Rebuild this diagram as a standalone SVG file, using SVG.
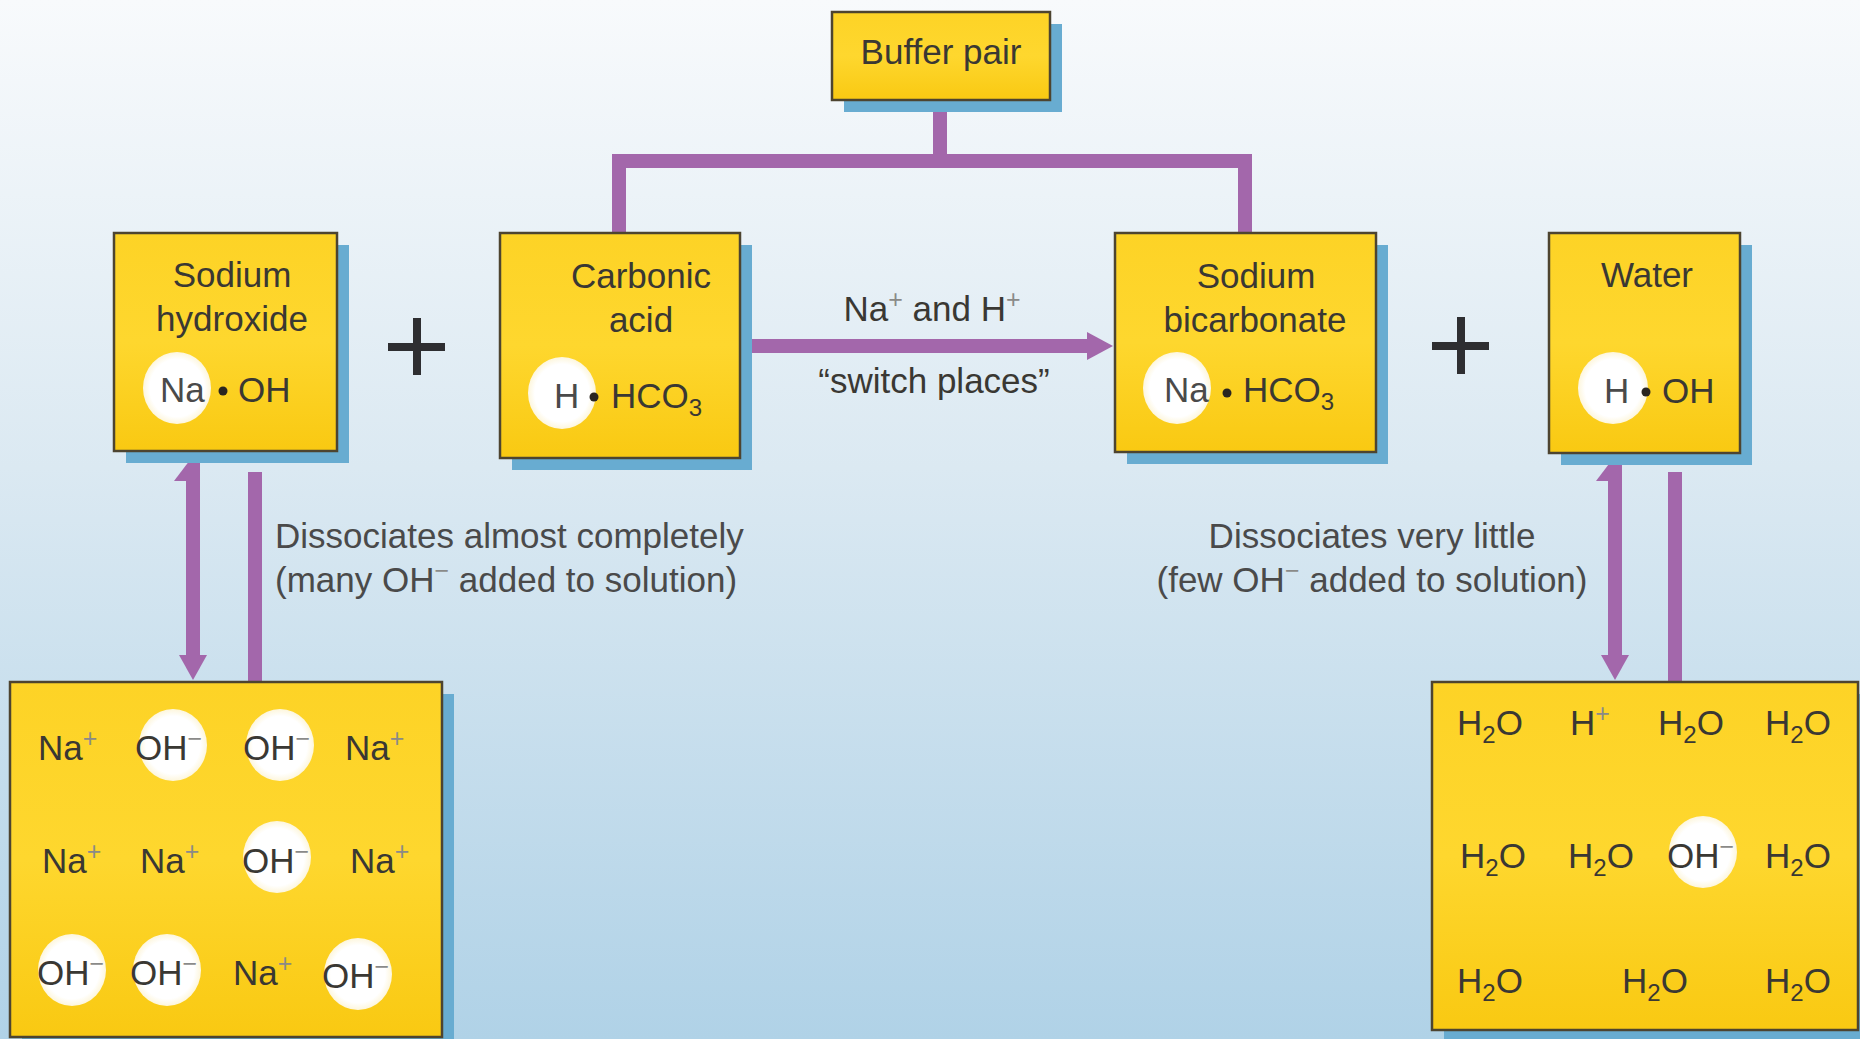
<svg xmlns="http://www.w3.org/2000/svg" width="1860" height="1039" viewBox="0 0 1860 1039">
<defs>
<linearGradient id="bg" x1="0" y1="0" x2="0" y2="1">
<stop offset="0" stop-color="#f8fafc"/>
<stop offset="0.45" stop-color="#dbe9f2"/>
<stop offset="1" stop-color="#b0d2e7"/>
</linearGradient>
<linearGradient id="boxfill" x1="0" y1="0" x2="0" y2="1">
<stop offset="0" stop-color="#fdd326"/>
<stop offset="0.5" stop-color="#fed72e"/>
<stop offset="1" stop-color="#f9c912"/>
</linearGradient>
<radialGradient id="ionfill" cx="0.5" cy="0.5" r="0.5">
<stop offset="0.8" stop-color="#ffffff"/>
<stop offset="1" stop-color="#fdf6dc"/>
</radialGradient>
<style>
.box{fill:url(#boxfill);stroke:#4d4430;stroke-width:2.5}
.shadow{fill:#68acd1}
.t{font-family:"Liberation Sans",Arial,sans-serif;font-size:35px;fill:#3a3833}
.c{text-anchor:middle}
.g{fill:#4a4a4a}
.sup{font-size:25px;fill:#8a8a88}
.sub{font-size:24px}
.ion{fill:url(#ionfill)}
.dot{fill:#2a2520}
.conn{stroke:#a367ab;stroke-width:14;fill:none;stroke-linejoin:miter}
.head{fill:#a367ab}
.plus{stroke:#2e2e31;stroke-width:8}
</style>
</defs>
<rect width="1860" height="1039" fill="url(#bg)"/>

<g id="connectors">
<path class="conn" d="M940 100 V161"/>
<path class="conn" d="M619 233 V161 H1245 V233"/>
<path class="conn" d="M752 346 H1090"/>
<polygon class="head" points="1087,332 1113,346 1087,360"/>
<path class="conn" d="M193 478 V657"/>
<polygon class="head" points="174,481 193,456 200,456 200,481"/>
<polygon class="head" points="179,655 207,655 193,680"/>
<path class="conn" d="M255 472 V682"/>
<path class="conn" d="M1615 478 V657"/>
<polygon class="head" points="1596,481 1615,456 1622,456 1622,481"/>
<polygon class="head" points="1601,655 1629,655 1615,680"/>
<path class="conn" d="M1675 472 V682"/>
</g>

<g id="buffer-pair">
<rect class="shadow" x="844" y="24" width="218" height="88"/>
<rect class="box" x="832" y="12" width="218" height="88"/>
<text class="t c" x="941" y="64">Buffer pair</text>
</g>

<g id="sodium-hydroxide">
<rect class="shadow" x="126" y="245" width="223" height="218"/>
<rect class="box" x="114" y="233" width="223" height="218"/>
<text class="t c" x="232" y="287">Sodium</text>
<text class="t c" x="232" y="331">hydroxide</text>
<ellipse class="ion" cx="177" cy="388" rx="34" ry="36"/>
<text class="t g" x="160" y="402">Na</text>
<circle class="dot" cx="223" cy="391" r="4.5"/>
<text class="t" x="238" y="402">OH</text>
</g>

<g id="plus-1">
<line class="plus" x1="388" y1="347" x2="445" y2="347"/>
<line class="plus" x1="417" y1="318" x2="417" y2="375"/>
</g>

<g id="carbonic-acid">
<rect class="shadow" x="512" y="245" width="240" height="225"/>
<rect class="box" x="500" y="233" width="240" height="225"/>
<text class="t c" x="641" y="288">Carbonic</text>
<text class="t c" x="641" y="332">acid</text>
<ellipse class="ion" cx="562" cy="393" rx="34" ry="36"/>
<text class="t g" x="554" y="408">H</text>
<circle class="dot" cx="594" cy="397" r="4.5"/>
<text class="t" x="611" y="408">HCO<tspan class="sub" dy="8">3</tspan></text>
</g>

<g id="switch-label">
<text class="t c" x="932" y="321">Na<tspan class="sup" dy="-13">+</tspan><tspan dy="13"> and H</tspan><tspan class="sup" dy="-13">+</tspan></text>
<text class="t c" x="934" y="393">“switch places”</text>
</g>

<g id="sodium-bicarbonate">
<rect class="shadow" x="1127" y="245" width="261" height="219"/>
<rect class="box" x="1115" y="233" width="261" height="219"/>
<text class="t c" x="1256" y="288">Sodium</text>
<text class="t c" x="1255" y="332">bicarbonate</text>
<ellipse class="ion" cx="1177" cy="388" rx="34" ry="36"/>
<text class="t g" x="1164" y="402">Na</text>
<circle class="dot" cx="1227" cy="393" r="4.5"/>
<text class="t" x="1243" y="402">HCO<tspan class="sub" dy="8">3</tspan></text>
</g>

<g id="plus-2">
<line class="plus" x1="1432" y1="346" x2="1489" y2="346"/>
<line class="plus" x1="1461" y1="317" x2="1461" y2="374"/>
</g>

<g id="water">
<rect class="shadow" x="1561" y="245" width="191" height="220"/>
<rect class="box" x="1549" y="233" width="191" height="220"/>
<text class="t c" x="1647" y="287">Water</text>
<ellipse class="ion" cx="1613" cy="388" rx="35" ry="36"/>
<text class="t g" x="1604" y="403">H</text>
<circle class="dot" cx="1646" cy="392" r="4.5"/>
<text class="t" x="1662" y="403">OH</text>
</g>

<g id="label-left">
<text class="t g" x="275" y="548">Dissociates almost completely</text>
<text class="t g" x="275" y="592">(many OH<tspan class="sup" dy="-13">−</tspan><tspan dy="13"> added to solution)</tspan></text>
</g>

<g id="label-right">
<text class="t g c" x="1372" y="548">Dissociates very little</text>
<text class="t g c" x="1372" y="592">(few OH<tspan class="sup" dy="-13">−</tspan><tspan dy="13"> added to solution)</tspan></text>
</g>

<g id="naoh-solution">
<rect class="shadow" x="22" y="694" width="432" height="360"/>
<rect class="box" x="10" y="682" width="432" height="355"/>
<ellipse class="ion" cx="173" cy="745" rx="34" ry="36"/>
<ellipse class="ion" cx="280" cy="745" rx="34" ry="36"/>
<ellipse class="ion" cx="277" cy="857" rx="34" ry="36"/>
<ellipse class="ion" cx="72" cy="970" rx="34" ry="36"/>
<ellipse class="ion" cx="167" cy="970" rx="34" ry="36"/>
<ellipse class="ion" cx="358" cy="974" rx="34" ry="36"/>
<text class="t" x="38" y="760">Na<tspan class="sup" dy="-13">+</tspan></text>
<text class="t" x="135" y="760">OH<tspan class="sup" dy="-13">−</tspan></text>
<text class="t" x="243" y="760">OH<tspan class="sup" dy="-13">−</tspan></text>
<text class="t" x="345" y="760">Na<tspan class="sup" dy="-13">+</tspan></text>
<text class="t" x="42" y="873">Na<tspan class="sup" dy="-13">+</tspan></text>
<text class="t" x="140" y="873">Na<tspan class="sup" dy="-13">+</tspan></text>
<text class="t" x="242" y="873">OH<tspan class="sup" dy="-13">−</tspan></text>
<text class="t" x="350" y="873">Na<tspan class="sup" dy="-13">+</tspan></text>
<text class="t" x="37" y="985">OH<tspan class="sup" dy="-13">−</tspan></text>
<text class="t" x="130" y="985">OH<tspan class="sup" dy="-13">−</tspan></text>
<text class="t" x="233" y="985">Na<tspan class="sup" dy="-13">+</tspan></text>
<text class="t" x="322" y="988">OH<tspan class="sup" dy="-13">−</tspan></text>
</g>

<g id="water-solution">
<rect class="shadow" x="1444" y="694" width="426" height="348"/>
<rect class="box" x="1432" y="682" width="426" height="348"/>
<ellipse class="ion" cx="1703" cy="852" rx="34" ry="36"/>
<text class="t" x="1457" y="735">H<tspan class="sub" dy="8">2</tspan><tspan dy="-8">O</tspan></text>
<text class="t" x="1570" y="735">H<tspan class="sup" dy="-13">+</tspan></text>
<text class="t" x="1658" y="735">H<tspan class="sub" dy="8">2</tspan><tspan dy="-8">O</tspan></text>
<text class="t" x="1765" y="735">H<tspan class="sub" dy="8">2</tspan><tspan dy="-8">O</tspan></text>
<text class="t" x="1460" y="868">H<tspan class="sub" dy="8">2</tspan><tspan dy="-8">O</tspan></text>
<text class="t" x="1568" y="868">H<tspan class="sub" dy="8">2</tspan><tspan dy="-8">O</tspan></text>
<text class="t" x="1667" y="868">OH<tspan class="sup" dy="-13">−</tspan></text>
<text class="t" x="1765" y="868">H<tspan class="sub" dy="8">2</tspan><tspan dy="-8">O</tspan></text>
<text class="t" x="1457" y="993">H<tspan class="sub" dy="8">2</tspan><tspan dy="-8">O</tspan></text>
<text class="t" x="1622" y="993">H<tspan class="sub" dy="8">2</tspan><tspan dy="-8">O</tspan></text>
<text class="t" x="1765" y="993">H<tspan class="sub" dy="8">2</tspan><tspan dy="-8">O</tspan></text>
</g>
</svg>
